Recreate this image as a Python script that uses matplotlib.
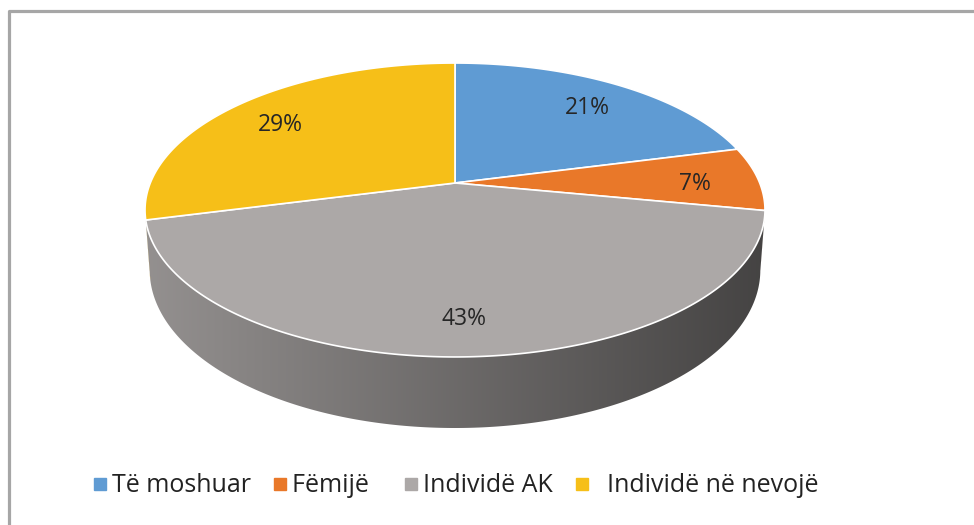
import numpy as np
import matplotlib
matplotlib.use("Agg")
import matplotlib.pyplot as plt
import matplotlib.patches as mpatches
from matplotlib.lines import Line2D

categories = ["Të moshuar", "Fëmijë", "Individë AK", "Individë në nevojë"]
shares = [21, 7, 43, 29]
colors = ["#5f9bd3", "#e97829", "#aca8a7", "#f6bf18"]
pct_labels = [f"{s}%" for s in shares]

# pseudo 3d pie geometry (pixels)
CX, CY = 455, 183
RX, RY = 304.7, 142.0
K = -0.1837
DEPTH = 58
BOTTOM_SHRINK = 0.985
LABEL_R = 0.79
LABEL_DROP = 5

plt.rcParams["font.family"] = ["Open Sans", "DejaVu Sans"]


def project(phi, rho=1.0, drop=0.0, shrink=1.0):
    u = rho * np.sin(phi)
    v = -rho * np.cos(phi)
    w = 1 + K * v
    return CX + shrink * RX * u / w, CY + RY * v / w + drop / w


fig = plt.figure(figsize=(9.74, 5.25), dpi=100)
ax = fig.add_axes([0, 0, 1, 1])
ax.axis("off")

fracs = np.array(shares, dtype=float) / sum(shares)
edges = np.concatenate([[0], np.cumsum(fracs)]) * 2 * np.pi

# visible side between the right and left silhouette points
phi_r = np.arccos(K)
phi_l = 2 * np.pi - phi_r
xs = np.arange(0, 974)
shade = np.interp(xs, [145, 765], [0.86, 0.40])

for i, col in enumerate(colors):
    a0, a1 = max(edges[i], phi_r), min(edges[i + 1], phi_l)
    if a1 <= a0:
        continue
    ph = np.linspace(a0, a1, 200)
    tx, ty = project(ph)
    bx, by = project(ph, drop=DEPTH, shrink=BOTTOM_SHRINK)
    pts = np.column_stack([np.concatenate([tx, bx[::-1]]), np.concatenate([ty, by[::-1]])])
    poly = mpatches.Polygon(pts, closed=True, facecolor="none", edgecolor="none")
    ax.add_patch(poly)
    rgb = np.array(matplotlib.colors.to_rgb(col))
    img = np.clip(shade[None, :, None] * rgb[None, None, :], 0, 1)
    im = ax.imshow(img, extent=[0, 974, 525, 0], aspect="auto", interpolation="bilinear", zorder=1)
    im.set_clip_path(poly)

for i, col in enumerate(colors):
    ph = np.linspace(edges[i], edges[i + 1], 200)
    tx, ty = project(ph)
    pts = np.column_stack([np.concatenate([[CX], tx]), np.concatenate([[CY], ty])])
    ax.add_patch(mpatches.Polygon(pts, closed=True, facecolor=col, edgecolor="white", linewidth=1.2, zorder=2))
    mid = (edges[i] + edges[i + 1]) / 2
    lx, ly = project(mid, rho=LABEL_R)
    ax.text(lx, ly + LABEL_DROP, pct_labels[i], ha="center", va="center", fontsize=16.5, color="#262626", zorder=3)

# outer frame
ax.plot([8.5, 8.5, 990], [540, 10.5, 10.5], color="#a6a6a6", linewidth=2.3, clip_on=False, zorder=4)

ax.set_xlim(0, 974)
ax.set_ylim(525, 0)

handles = [Line2D([], [], marker="s", linestyle="", color=c, markersize=9) for c in colors]
leg_labels = ["Të moshuar", "Fëmijë  ", "Individë AK", "  Individë në nevojë"]
fig.legend(handles, leg_labels, loc="center left", bbox_to_anchor=(93 / 974, 1 - 486 / 525),
           ncol=4, frameon=False, fontsize=18, handlelength=0.55, handletextpad=0.2,
           columnspacing=0.9, borderpad=0, borderaxespad=0, labelcolor="#222222")

fig.savefig("out.png", dpi=100)
